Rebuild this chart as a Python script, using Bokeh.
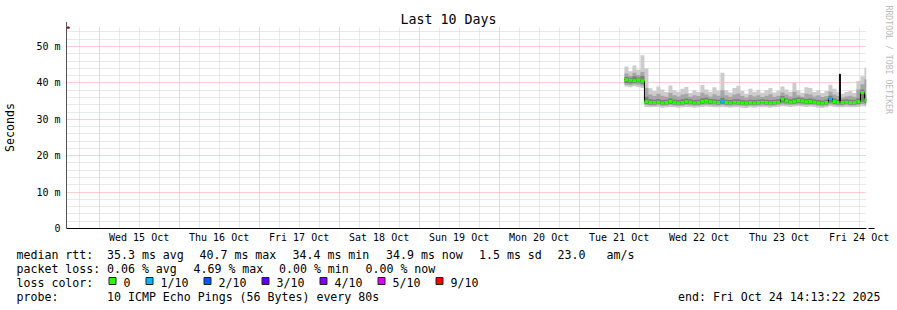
from bokeh.plotting import figure
from bokeh.models import Range1d, FixedTicker, Title, Arrow, NormalHead, ColumnDataSource
from bokeh.layouts import column
from bokeh.core.properties import value
from bokeh.embed import file_html
from bokeh.resources import INLINE

MONO = "DejaVu Sans Mono"

# ---- time axis (hours since Tue 14 Oct 2025 00:00) ----
range_start_h = 14.2228
range_end_h = 254.2228
day_label_hours = [36, 60, 84, 108, 132, 156, 180, 204, 228, 252]
day_labels = ["Wed 15 Oct", "Thu 16 Oct", "Fri 17 Oct", "Sat 18 Oct", "Sun 19 Oct",
              "Mon 20 Oct", "Tue 21 Oct", "Wed 22 Oct", "Thu 23 Oct", "Fri 24 Oct"]
midnight_hours = [24, 48, 72, 96, 120, 144, 168, 192, 216, 240]
six_hour_hours = [h for h in range(18, 255, 6) if h % 24 != 0]

y_major = [0, 10, 20, 30, 40, 50]
y_major_labels = ["0", "10 m", "20 m", "30 m", "40 m", "50 m"]
y_minor = [v for v in range(2, 55, 2) if v % 10 != 0]

# ---- smoke data (ms) ----
smoke_t = [181.6, 182.8, 184.0, 185.2, 186.4, 187.6, 188.8, 190.0, 191.2, 192.4,
           193.6, 194.8, 196.0, 197.2, 198.4, 199.6, 200.8, 202.0, 203.2, 204.4,
           205.6, 206.8, 208.0, 209.2, 210.4, 211.6, 212.8, 214.0, 215.2, 216.4,
           217.6, 218.8, 220.0, 221.2, 222.4, 223.6, 224.8, 226.0, 227.2, 228.4,
           229.6, 230.8, 232.0, 233.2, 234.4, 235.6, 236.8, 238.0, 239.2, 240.4,
           241.6, 242.8, 244.0, 245.2, 246.4, 247.6, 248.8, 250.0, 251.2, 252.4,
           253.6]
outer_hi = [44.5, 43.2, 44.8, 43.6, 47.6,
            44.0, 38.5, 37.8, 39.0, 38.2, 37.5, 39.3, 38.0, 37.6, 38.4,
            38.9, 37.2, 38.0, 37.5, 39.4, 38.2, 37.6, 38.8, 37.9, 42.8,
            38.0, 37.4, 38.6, 39.2, 37.8, 37.0, 38.4, 37.6, 38.1, 37.3,
            38.0, 38.6, 37.4, 37.9, 39.0, 38.2, 37.6, 40.1, 38.0, 37.3,
            38.8, 38.6, 37.5, 38.0, 37.2, 37.8, 39.5, 38.4, 37.6, 37.0,
            37.5, 37.8, 37.2, 40.5, 41.8, 44.2]
mid_hi = [42.6, 42.0, 42.8, 42.2, 43.0,
          38.6, 36.8, 36.4, 37.0, 36.5, 36.2, 37.2, 36.6, 36.3, 36.8,
          37.0, 36.2, 36.6, 36.4, 37.3, 36.8, 36.3, 36.9, 36.5, 38.0,
          36.6, 36.2, 36.8, 37.1, 36.4, 36.0, 36.7, 36.3, 36.6, 36.1,
          36.5, 36.9, 36.2, 36.5, 37.4, 36.8, 36.3, 37.6, 36.6, 36.2,
          37.0, 36.8, 36.3, 36.6, 36.1, 36.4, 37.6, 36.8, 36.4, 36.0,
          36.3, 36.5, 36.2, 38.2, 39.6, 41.0]
inner_hi = [41.6, 41.4, 41.8, 41.5, 41.9,
            36.2, 35.5, 35.4, 35.6, 35.3, 35.4, 35.8, 35.4, 35.3, 35.5,
            35.7, 35.5, 35.3, 35.4, 35.8, 35.9, 35.6, 35.5, 35.4, 35.9,
            35.4, 35.3, 35.5, 35.5, 35.3, 35.2, 35.4, 35.3, 35.4, 35.5,
            35.4, 35.3, 35.4, 35.5, 36.4, 35.8, 35.5, 35.8, 36.0, 35.8,
            35.6, 35.7, 35.5, 35.3, 35.2, 35.4, 36.5, 35.7, 35.4, 35.4,
            35.5, 35.4, 35.4, 35.8, 38.2, 36.8]
inner_lo = [40.0, 39.9, 40.0, 40.1, 39.8,
            34.2, 34.1, 34.1, 34.2, 34.0, 34.1, 34.3, 34.1, 34.0, 34.1,
            34.2, 34.2, 34.0, 34.1, 34.3, 34.4, 34.2, 34.2, 34.1, 34.2,
            34.1, 34.0, 34.2, 34.1, 34.0, 33.9, 34.1, 34.0, 34.1, 34.2,
            34.1, 34.0, 34.1, 34.2, 34.6, 34.4, 34.2, 34.3, 34.5, 34.4,
            34.3, 34.3, 34.2, 34.0, 33.9, 34.1, 34.6, 34.3, 34.1, 34.1,
            34.2, 34.1, 34.1, 34.2, 34.8, 34.5]
mid_lo = [39.5, 39.4, 39.6, 39.5, 39.2,
          33.9, 33.8, 33.8, 33.9, 33.7, 33.8, 33.9, 33.8, 33.7, 33.8,
          33.9, 33.8, 33.7, 33.8, 33.9, 34.0, 33.9, 33.8, 33.8, 33.9,
          33.8, 33.7, 33.8, 33.8, 33.7, 33.6, 33.8, 33.7, 33.8, 33.8,
          33.8, 33.7, 33.8, 33.9, 34.1, 34.0, 33.9, 34.0, 34.1, 34.0,
          33.9, 34.0, 33.9, 33.7, 33.6, 33.8, 34.1, 33.9, 33.8, 33.8,
          33.9, 33.8, 33.8, 33.9, 34.2, 34.0]
outer_lo = [39.0, 38.8, 39.1, 38.9, 38.6,
            33.4, 33.3, 33.4, 33.4, 33.2, 33.3, 33.4, 33.3, 33.2, 33.3,
            33.4, 33.3, 33.2, 33.3, 33.4, 33.5, 33.4, 33.3, 33.3, 33.4,
            33.3, 33.2, 33.3, 33.3, 33.2, 33.1, 33.3, 33.2, 33.3, 33.3,
            33.3, 33.2, 33.3, 33.4, 33.6, 33.5, 33.4, 33.5, 33.6, 33.5,
            33.4, 33.5, 33.4, 33.2, 33.1, 33.3, 33.6, 33.4, 33.3, 33.3,
            33.4, 33.3, 33.3, 33.4, 33.6, 33.5]

# ---- median rtt (ms) and loss (pings lost of 10) ----
med_t = [181.6, 182.8, 184.0, 185.2, 186.4, 187.6, 188.8, 190.0, 191.2, 192.4,
         193.6, 194.8, 196.0, 197.2, 198.4, 199.6, 200.8, 202.0, 203.2, 204.4,
         205.6, 206.8, 208.0, 209.2, 210.4, 211.6, 212.8, 214.0, 215.2, 216.4,
         217.6, 218.8, 220.0, 221.2, 222.4, 223.6, 224.8, 226.0, 227.2, 228.4,
         229.6, 230.8, 232.0, 233.2, 234.4, 235.6, 236.8, 238.0, 239.2, 240.4,
         241.6, 242.8, 244.0, 245.2, 246.1, 246.4, 247.6, 248.8, 250.0, 251.2,
         252.4, 253.6]
med_v = [40.9, 40.7, 40.6, 40.8, 40.5,
         34.8, 34.6, 34.6, 34.7, 34.5, 34.6, 34.9, 34.6, 34.5, 34.6,
         34.8, 34.7, 34.5, 34.6, 34.9, 35.0, 34.8, 34.7, 34.6, 34.8,
         34.6, 34.5, 34.7, 34.6, 34.5, 34.4, 34.6, 34.5, 34.6, 34.7,
         34.6, 34.5, 34.6, 34.7, 35.6, 35.0, 34.7, 34.9, 35.2, 35.0,
         34.8, 34.9, 34.7, 34.5, 34.4, 34.6, 35.7, 34.9, 34.6, 42.4,
         34.6, 34.7, 34.6, 34.6, 34.8, 37.4, 35.4]
med_loss = [0, 0, 0, 0, 0,
            0, 0, 0, 0, 0, 0, 0, 0, 0, 0,
            0, 0, 0, 0, 0, 0, 0, 0, 0, 1,
            0, 0, 0, 0, 0, 0, 0, 0, 0, 0,
            0, 0, 0, 0, 0, 0, 0, 0, 0, 0,
            0, 0, 0, 0, 0, 0, 1, 0, 0, None,
            0, 0, 0, 0, 0, 0, 0]

loss_levels = [0, 1, 2, 3, 4, 5, 9]
loss_labels = ["0", "1/10", "2/10", "3/10", "4/10", "5/10", "9/10"]
loss_colors = ["#26ff00", "#00b8ff", "#0059ff", "#5e00ff", "#7e00ff", "#dd00ff", "#ff0000"]

# legend rows: text pieces and their left x in px
row_rtt = ["median rtt:", "35.3 ms avg", "40.7 ms max", "34.4 ms min", "34.9 ms now",
           "1.5 ms sd", "23.0", "am/s"]
row_rtt_x = [16, 106.5, 199, 292, 385.5, 478.5, 557, 606]
row_loss = ["packet loss:", "0.06 % avg", "4.69 % max", "0.00 % min", "0.00 % now"]
row_loss_x = [16, 106.5, 193, 278.5, 365]
row_color = ["loss color:"]
row_color_x = [16]
row_probe = ["probe:", "10 ICMP Echo Pings (56 Bytes) every 80s", "end: Fri Oct 24 14:13:22 2025"]
row_probe_x = [16, 106.5, 677.5]

FRAME_L, FRAME_R, FRAME_T, FRAME_B = 66, 866, 26, 228
P_H = 248
Q_H = 310 - P_H
TEXT_DY = 4   # text glyphs sit this much below their nominal baseline

# ================= main graph =================
p = figure(width=897, height=P_H, x_range=Range1d(range_start_h, range_end_h),
           y_range=Range1d(0, 55.5), output_backend="svg", toolbar_location=None,
           min_border_left=FRAME_L, min_border_right=897 - FRAME_R,
           min_border_top=FRAME_T, min_border_bottom=P_H - FRAME_B,
           outline_line_color=None, background_fill_color="white", border_fill_color="white")
if "frame_align" in p.properties():
    p.frame_align = False

p.add_layout(Title(text="Last 10 Days", align="left", offset=400 - FRAME_L, standoff=0,
                   text_font=MONO, text_font_size="13.3px", text_font_style="normal",
                   text_color="#000000"), "above")
# spacer panel, then the vertical credit text
p.add_layout(Title(text=" ", standoff=14, text_font=MONO, text_font_size="1px",
                   text_font_style="normal"), "right")
p.add_layout(Title(text="RRDTOOL / TOBI OETIKER", align="left", offset=-21, standoff=0,
                   text_font=MONO, text_font_size="8.2px", text_font_style="normal",
                   text_color="#bbbbbb"), "right")

p.xaxis.ticker = FixedTicker(ticks=day_label_hours)
p.xaxis.major_label_overrides = dict(zip(day_label_hours, day_labels))
p.yaxis.ticker = FixedTicker(ticks=y_major)
p.yaxis.major_label_overrides = dict(zip(y_major, y_major_labels))
for ax in (p.xaxis, p.yaxis):
    ax.major_tick_line_color = None
    ax.minor_tick_line_color = None
    ax.major_tick_out = 0
    ax.major_tick_in = 0
    ax.minor_tick_out = 0
    ax.minor_tick_in = 0
    ax.major_label_text_font = MONO
    ax.major_label_text_font_size = "10px"
    ax.major_label_text_color = "#000000"
p.xaxis.major_label_standoff = 3
p.yaxis.major_label_standoff = 6
p.xaxis.axis_line_color = "#000000"
p.yaxis.axis_line_color = "#555555"
p.yaxis.axis_label = "Seconds"
p.yaxis.axis_label_text_font = MONO
p.yaxis.axis_label_text_font_size = "11.6px"
p.yaxis.axis_label_text_font_style = "normal"
p.yaxis.axis_label_text_color = "#000000"
p.yaxis.axis_label_standoff = 16

p.xgrid.ticker = FixedTicker(ticks=midnight_hours, minor_ticks=six_hour_hours)
p.ygrid.ticker = FixedTicker(ticks=y_major, minor_ticks=y_minor)
for g in (p.xgrid, p.ygrid):
    g.grid_line_color = "#f4a0a0"
    g.grid_line_dash = "1 1"
    g.minor_grid_line_color = "#d2d2d2"
    g.minor_grid_line_dash = "1 1"

st = smoke_t + [range_end_h]
def ext(a):
    return a + [a[-1]]
p.varea_step(x=st, y1=ext(outer_lo), y2=ext(outer_hi), step_mode="after", fill_color="#cccccc")
p.varea_step(x=st, y1=ext(mid_lo), y2=ext(mid_hi), step_mode="after", fill_color="#a6a6a6")
p.varea_step(x=st, y1=ext(inner_lo), y2=ext(inner_hi), step_mode="after", fill_color="#7e7e7e")

mt = med_t + [range_end_h]
p.step(x=mt, y=ext(med_v), mode="after", line_color="#000000", line_width=1)
cmap = dict(zip(loss_levels, loss_colors))
seg = dict(x0=[], x1=[], y=[], c=[])
for i, l in enumerate(med_loss):
    if l is None:
        continue
    seg["x0"].append(mt[i]); seg["x1"].append(mt[i + 1])
    seg["y"].append(med_v[i]); seg["c"].append(cmap[l])
p.segment(x0="x0", x1="x1", y0="y", y1="y", line_color="c", line_width=3,
          source=ColumnDataSource(seg))

# axis arrows
p.add_layout(Arrow(x_start=range_end_h, y_start=0, x_end=range_end_h + 2.4, y_end=0,
                   line_color="#000000", line_width=1,
                   end=NormalHead(size=6, fill_color="#8b1a1a", line_color="#8b1a1a")))
p.add_layout(Arrow(x_start=range_start_h, y_start=55.5, x_end=range_start_h, y_end=56.7,
                   line_color="#555555", line_width=1,
                   end=NormalHead(size=6, fill_color="#8b1a1a", line_color="#8b1a1a")))

# ================= legend area =================
q = figure(width=897, height=Q_H, x_range=Range1d(0, 897), y_range=Range1d(Q_H, 0),
           output_backend="svg", toolbar_location=None, min_border=0,
           x_axis_type=None, y_axis_type=None, outline_line_color=None,
           background_fill_color="white", border_fill_color="white")
if "frame_align" in q.properties():
    q.frame_align = False

def add_row(pieces, xs, baseline_page_y):
    q.text(x=xs, y=[baseline_page_y - P_H - TEXT_DY] * len(xs), text=pieces,
           text_font=value(MONO), text_font_size=value("11.6px"),
           text_align="left", text_baseline="alphabetic", text_color="#000000")

add_row(row_rtt, row_rtt_x, 258)
add_row(row_loss, row_loss_x, 272)
add_row(row_color, row_color_x, 286)
add_row(row_probe, row_probe_x, 300)

box_x, lab_x = [], []
cur = 108
for lab in loss_labels:
    box_x.append(cur + 4)
    lab_x.append(cur + 15)
    cur = cur + 15 + len(lab) * 7 + 15
q.rect(x=box_x, y=[280.5 - P_H] * len(box_x), width=7, height=7, fill_color=loss_colors,
       line_color="#222222", line_width=1)
add_row(loss_labels, lab_x, 286)

layout = column(p, q, spacing=0)
open("out.html", "w").write(file_html(layout, INLINE))
